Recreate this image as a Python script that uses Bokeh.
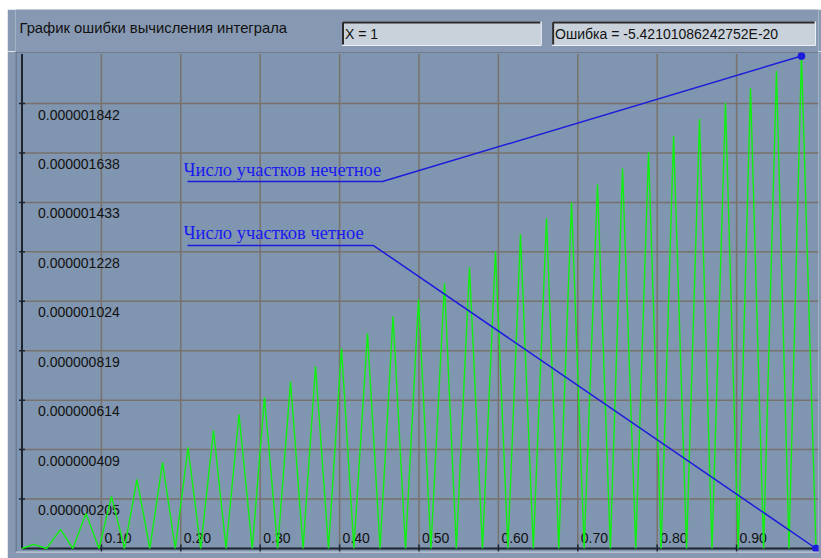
from bokeh.plotting import figure
from bokeh.models import Range1d, Span
from bokeh.layouts import column
from bokeh.embed import file_html
from bokeh.resources import INLINE
from bokeh.core.properties import value

# ---- data -------------------------------------------------------------
# integration error vs X: zero troughs alternating with growing peaks
trough_x = [0.000, 0.031, 0.064, 0.097, 0.129, 0.161, 0.193, 0.225, 0.257, 0.290,
            0.322, 0.354, 0.386, 0.418, 0.451, 0.483, 0.515, 0.547, 0.580, 0.612,
            0.644, 0.676, 0.708, 0.741, 0.773, 0.805, 0.837, 0.869, 0.902, 0.934,
            0.966, 1.000]
peak_x = [0.0145, 0.0485, 0.0806, 0.1127, 0.1448, 0.1770, 0.2091, 0.2412, 0.2733, 0.3054,
          0.3382, 0.3697, 0.4024, 0.4351, 0.4673, 0.4994, 0.5321, 0.5636, 0.5963, 0.6278,
          0.6606, 0.6921, 0.7248, 0.7563, 0.7891, 0.8206, 0.8533, 0.8860, 0.9175, 0.9502,
          0.9817]
# peak error, in units of 1e-9
peak_err = [17, 79, 145, 216, 286, 357, 419, 489, 556, 626,
            692, 755, 829, 891, 962, 1032, 1099, 1165, 1231, 1302,
            1368, 1434, 1509, 1575, 1642, 1708, 1779, 1845, 1907, 1978,
            2040]

x_ticks = [0.1, 0.2, 0.3, 0.4, 0.5, 0.6, 0.7, 0.8, 0.9]
x_tick_labels = ["0.10", "0.20", "0.30", "0.40", "0.50", "0.60", "0.70", "0.80", "0.90"]
y_ticks = [2.048e-7, 4.096e-7, 6.144e-7, 8.192e-7, 1.024e-6, 1.2288e-6, 1.4336e-6,
           1.6384e-6, 1.8432e-6]
y_tick_labels = ["0.000000205", "0.000000409", "0.000000614", "0.000000819", "0.000001024",
                 "0.000001228", "0.000001433", "0.000001638", "0.000001842"]
y_top = 2.048e-6

title_text = "График ошибки вычисления интеграла"
x_text = "X = 1"
err_text = "Ошибка = -5.42101086242752E-20"
note_odd = "Число участков нечетное"
note_even = "Число участков четное"

# ---- styles -------------------------------------------------------------
PANEL = "#8799b2"
PLOT_BG = "#8095af"
BOX_BG = "#c9d1db"
GRID = "#78726c"
AXIS = "#1d2430"
GREEN = "#10f010"
BLUE = "#1c1cdc"
UI_FONT = value("Liberation Sans")

# ---- header strip -----------------------------------------------------
hdr = figure(width=814, height=42, x_range=Range1d(0, 814), y_range=Range1d(42, 0),
             x_axis_location=None, y_axis_location=None, toolbar_location=None,
             output_backend="svg", min_border=0, background_fill_color=PANEL,
             border_fill_color=PANEL, outline_line_color=None)
hdr.grid.visible = False

hdr.text(x=[4], y=[18.5], text=[title_text], text_font=UI_FONT, text_font_size="14.8px",
         text_color="#111111", text_baseline="middle", text_align="left")

for (l, r) in [(331, 533), (544, 811)]:
    t, b = 12, 36
    hdr.quad(left=[l], right=[r], top=[t], bottom=[b], fill_color=BOX_BG, line_color=None)
    hdr.line([l + 1, l + 1, r - 1], [b - 1, t + 1, t + 1], line_color="#2b2b2b", line_width=2)
    hdr.line([l, r, r], [b, b, t], line_color="#eef1f5", line_width=1)

hdr.text(x=[334, 547], y=[24.5, 24.5], text=[x_text, err_text], text_font=UI_FONT,
         text_font_size="14px", text_color="#111111", text_baseline="middle", text_align="left")

# ---- error plot -----------------------------------------------------------
PX_X = 794.0            # pixels per unit of X
PX_Y = 445.0 / 1.8432e-6  # pixels per unit of error
x0 = -6.5 / PX_X
x1 = x0 + 803 / PX_X
y0 = -4 / PX_Y
y1 = y0 + 501 / PX_Y

p = figure(width=814, height=507, x_range=Range1d(x0, x1), y_range=Range1d(y0, y1),
           x_axis_location=None, y_axis_location=None, toolbar_location=None,
           output_backend="svg", min_border=0, min_border_left=8, min_border_right=3,
           min_border_top=0, min_border_bottom=6, background_fill_color=PLOT_BG,
           border_fill_color=PANEL, outline_line_color=None)
p.grid.visible = False

# grid
p.segment(x0=[0] * len(y_ticks), x1=[x1] * len(y_ticks), y0=y_ticks, y1=y_ticks,
          line_color=GRID, line_width=1.5)
p.segment(x0=x_ticks, x1=x_ticks, y0=[0] * len(x_ticks), y1=[y_top] * len(x_ticks),
          line_color=GRID, line_width=1.5)

# tick labels inside the plot area
p.text(x=[0] * len(y_ticks), y=y_ticks, text=y_tick_labels, text_font=UI_FONT,
       text_font_size="14px", text_color="#111111", text_align="left",
       text_baseline="middle", x_offset=16, y_offset=11)
p.text(x=x_ticks, y=[0] * len(x_ticks), text=x_tick_labels, text_font=UI_FONT,
       text_font_size="14px", text_color="#111111", text_align="left",
       text_baseline="middle", x_offset=3, y_offset=-11)

# axes
p.segment(x0=[0, 0], y0=[0, 0], x1=[0, x1], y1=[y_top, 0], line_color=AXIS, line_width=2)
p.scatter(x=[0] * len(y_ticks), y=y_ticks, marker="dash", size=6, line_color=AXIS,
          line_width=1.5)
p.scatter(x=x_ticks, y=[0] * len(x_ticks), marker="dash", angle=1.5708, size=8,
          line_color=AXIS, line_width=1.5)

# sunken frame edges
p.add_layout(Span(location=x0, dimension="height", line_color="#56657a", line_width=2))
p.add_layout(Span(location=y1, dimension="width", line_color="#56657a", line_width=2))
p.add_layout(Span(location=y0, dimension="width", line_color="#c3ccd8", line_width=2))

# error curve
curve_x, curve_y = [], []
for i, px in enumerate(peak_x):
    curve_x += [trough_x[i], px]
    curve_y += [0.0, peak_err[i] * 1e-9]
curve_x.append(trough_x[-1])
curve_y.append(0.0)
p.line(curve_x, curve_y, line_color=GREEN, line_width=1.4)

# callouts for the final points
end_odd = (peak_x[-1], peak_err[-1] * 1e-9)
end_even = (trough_x[-1], 0.0)
ul_left = 0.2084
odd_ul = (0.4540, 1.520e-6)
even_ul = (0.4427, 1.255e-6)
p.line([ul_left, odd_ul[0], end_odd[0]], [odd_ul[1], odd_ul[1], end_odd[1]],
       line_color=BLUE, line_width=1.5)
p.line([ul_left, even_ul[0], end_even[0]], [even_ul[1], even_ul[1], end_even[1]],
       line_color=BLUE, line_width=1.5)
p.scatter(x=[end_odd[0], end_even[0]], y=[end_odd[1], end_even[1]], size=7,
          fill_color=BLUE, line_color=BLUE)
p.text(x=[0.2034, 0.2034], y=[1.5697e-6, 1.3088e-6], text=[note_odd, note_even],
       text_font=value("Liberation Serif"), text_font_size="18.5px", text_color="#1a1af0",
       text_align="left", text_baseline="alphabetic")

page = column(hdr, p, spacing=0)
page.margin = (9, 0, 0, 7)

open("out.html", "w").write(file_html(page, INLINE))
